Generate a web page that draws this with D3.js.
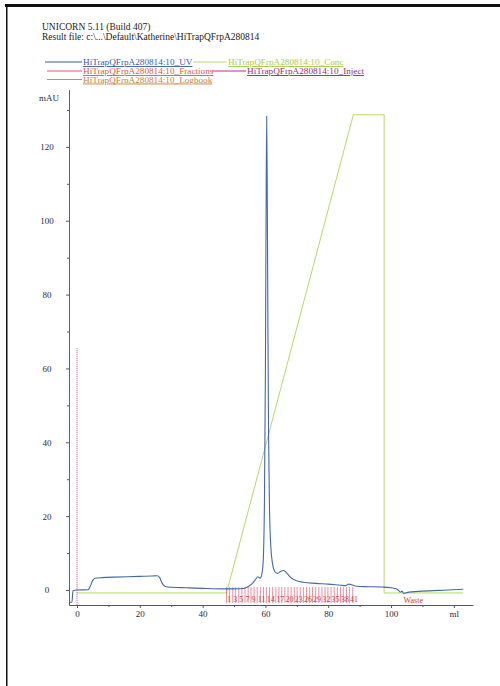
<!DOCTYPE html>
<html>
<head>
<meta charset="utf-8">
<script src="https://cdn.jsdelivr.net/npm/d3@7"></script>
<style>
  body { margin: 0; background: #fff; }
  svg { display: block; font-family: "Liberation Serif", "DejaVu Serif", serif; }
</style>
</head>
<body>
<div id="chart"></div>
<script>
// UV trace, ml vs mAU
var uvMl = [-2.5, -2.45, -2.4, -1.6, -1.3, 0, 3.5, 4.2, 5.0, 5.8, 8, 12, 16, 20, 24, 25.5, 26.3, 27.0, 27.8, 29, 35, 40, 47, 52, 54, 55.5, 56.8, 57.6, 58.3, 58.9, 59.3, 59.7, 60.0, 60.2, 60.4, 60.6, 60.8, 61.0, 61.3, 61.7, 62.2, 63, 63.8, 64.8, 65.8, 66.8, 68, 70, 72, 76, 80, 84, 85.5, 86.5, 87.5, 89, 93, 97, 100, 102, 103, 103.5, 104, 105, 110, 118, 123];
var uvMau = [136, 10, -3.3, -3.3, -0.2, 0, 0.05, 1.0, 2.6, 3.2, 3.35, 3.5, 3.6, 3.7, 3.8, 3.85, 3.4, 2.0, 1.1, 0.8, 0.6, 0.45, 0.3, 0.35, 0.7, 1.5, 2.8, 3.6, 3.2, 4.5, 8, 25, 60, 100, 128.3, 105, 70, 42, 22, 12, 7.5, 5, 4.5, 5.0, 5.3, 4.6, 3.4, 2.5, 2.1, 1.8, 1.6, 1.3, 1.2, 1.6, 1.4, 1.0, 0.9, 0.8, 0.6, 0.2, -0.6, -0.3, -0.9, -0.7, -0.3, 0.0, 0.2];

// Conc trace, ml vs %B
var concMl = [0, 47.6, 88.0, 97.8, 97.8, 123];
var concPct = [0, 0, 100, 100, 0, 0];

// Fractions
var fracMl = [47.6, 48.6, 49.6, 50.5, 51.5, 52.5, 53.5, 54.5, 55.4, 56.4, 57.4, 58.4, 59.4, 60.3, 61.3, 62.3, 63.3, 64.3, 65.2, 66.2, 67.2, 68.2, 69.2, 70.1, 71.1, 72.1, 73.1, 74.1, 75.0, 76.0, 77.0, 78.0, 79.0, 79.9, 80.9, 81.9, 82.9, 83.9, 84.8, 85.8, 86.8, 87.8];
var fracLabels = ["1", "3", "5", "7", "9", "11", "14", "17", "20", "23", "26", "29", "32", "35", "38", "41"];
var fracLabelMl = [47.6, 49.6, 51.5, 53.5, 55.4, 57.4, 60.3, 63.3, 66.2, 69.2, 72.1, 75.0, 78.0, 80.9, 83.9, 86.8];
var wasteMl = 104;

// Inject mark
var injectMl = 0;
var injectTop = 65.5;

var xTicks = [0, 20, 40, 60, 80, 100, 120];
var xMinor = [10, 30, 50, 70, 90, 110];
var yTicks = [0, 20, 40, 60, 80, 100, 120];
var yMinor = [10, 30, 50, 70, 90, 110, 130];

var legendNames = ["HiTrapQFrpA280814:10_UV", "HiTrapQFrpA280814:10_Conc", "HiTrapQFrpA280814:10_Fractions",
  "HiTrapQFrpA280814:10_Inject", "HiTrapQFrpA280814:10_Logbook"];

var W = 500, H = 686;
var svg = d3.select("#chart").append("svg").attr("width", W).attr("height", H);

// scan borders
svg.append("rect").attr("x", 5).attr("y", 4).attr("width", 495).attr("height", 3).attr("fill", "#111");
svg.append("rect").attr("x", 6).attr("y", 4).attr("width", 1.5).attr("height", 682).attr("fill", "#111");

// header
svg.append("text").attr("x", 42).attr("y", 30).attr("font-size", "9.5px").attr("fill", "#222")
  .text("UNICORN 5.11 (Build 407)");
svg.append("text").attr("x", 42).attr("y", 40).attr("font-size", "9.5px").attr("fill", "#222")
  .text("Result file: c:\\...\\Default\\Katherine\\HiTrapQFrpA280814");

// legend
var legend = [
  { name: legendNames[0], line: "#3d5a9a", text: "#3a5ca8", x1: 45, x2: 82, y: 62 },
  { name: legendNames[1], line: "#b9d86a", text: "#a9cc4a", x1: 193, x2: 227, y: 62 },
  { name: legendNames[2], line: "#e05a5a", text: "#d4604a", x1: 47, x2: 82, y: 71 },
  { name: legendNames[3], line: "#b0308a", text: "#9a2c78", x1: 212, x2: 246, y: 71 },
  { name: legendNames[4], line: "#9a9a80", text: "#c4843c", x1: 47, x2: 82, y: 79.5 }
];
var lg = svg.append("g").selectAll("g").data(legend).enter().append("g");
lg.append("line").attr("x1", d => d.x1).attr("x2", d => d.x2).attr("y1", d => d.y).attr("y2", d => d.y)
  .attr("stroke", d => d.line).attr("stroke-width", 1);
lg.append("text").attr("x", d => d.x2 + 1).attr("y", d => d.y + 3).attr("font-size", "9.2px")
  .attr("fill", d => d.text).attr("text-decoration", "underline").text(d => d.name);

// scales
var x = d3.scaleLinear().domain([-2.55, 126.1]).range([69, 473]);
var y = d3.scaleLinear().domain([-4.06, 135.4]).range([605, 90]);
var yConc = d3.scaleLinear().domain([0, 100]).range([y(-0.8), y(128.7)]);

svg.append("clipPath").attr("id", "plot").append("rect")
  .attr("x", 69).attr("y", 90).attr("width", 404).attr("height", 515);

// axes
var xAxis = svg.append("g").attr("transform", "translate(0,605)")
  .call(d3.axisBottom(x).tickValues(xTicks).tickSize(3).tickSizeOuter(0).tickPadding(3)
    .tickFormat(d => d === 120 ? "ml" : d));
svg.append("g").attr("transform", "translate(0,605)")
  .call(d3.axisBottom(x).tickValues(xMinor).tickSize(2).tickSizeOuter(0).tickFormat(""))
  .select(".domain").remove();
var yAxis = svg.append("g").attr("transform", "translate(69,0)")
  .call(d3.axisLeft(y).tickValues(yTicks).tickSize(3).tickSizeOuter(0));
svg.append("g").attr("transform", "translate(69,0)")
  .call(d3.axisLeft(y).tickValues(yMinor).tickSize(2).tickSizeOuter(0).tickFormat(""))
  .select(".domain").remove();
yAxis.selectAll(".tick text").attr("text-anchor", "middle").attr("x", -22);
svg.selectAll(".domain, .tick line").attr("stroke", "#556");
svg.selectAll(".tick text").attr("font-family", "Liberation Serif").attr("font-size", "9px").attr("fill", "#2a2a3a");

svg.append("text").attr("x", 49).attr("y", 101).attr("text-anchor", "middle")
  .attr("font-size", "9px").attr("fill", "#2a2a3a").text("mAU");

var plot = svg.append("g").attr("clip-path", "url(#plot)");

// conc
var concData = concMl.map((m, i) => [m, concPct[i]]);
plot.append("path").datum(concData)
  .attr("d", d3.line().x(d => x(d[0])).y(d => yConc(d[1])))
  .attr("fill", "none").attr("stroke", "#b9d86a").attr("stroke-width", 1);

// fractions
plot.append("g").selectAll("line").data(fracMl).enter().append("line")
  .attr("x1", d => x(d)).attr("x2", d => x(d))
  .attr("y1", y(-3.5)).attr("y2", y(0.8))
  .attr("stroke", "#e0506a").attr("stroke-width", 0.8).attr("opacity", 0.8);
svg.append("g").selectAll("text").data(fracLabels).enter().append("text")
  .attr("x", (d, i) => x(fracLabelMl[i]) + 0.5).attr("y", 602)
  .attr("font-size", "8px").attr("fill", "#d04038").text(d => d);
svg.append("text").attr("x", x(wasteMl)).attr("y", 603).attr("font-size", "8px")
  .attr("fill", "#d04038").text("Waste");

// inject
plot.append("line").attr("x1", x(injectMl)).attr("x2", x(injectMl))
  .attr("y1", y(-4)).attr("y2", y(injectTop))
  .attr("stroke", "#c0409a").attr("stroke-width", 1).attr("stroke-dasharray", "1,1");

// UV
var uvData = uvMl.map((m, i) => [m, uvMau[i]]);
plot.append("path").datum(uvData)
  .attr("d", d3.line().x(d => x(d[0])).y(d => y(d[1])).curve(d3.curveMonotoneX))
  .attr("fill", "none").attr("stroke", "#4668a6").attr("stroke-width", 1.1);
</script>
</body>
</html>
